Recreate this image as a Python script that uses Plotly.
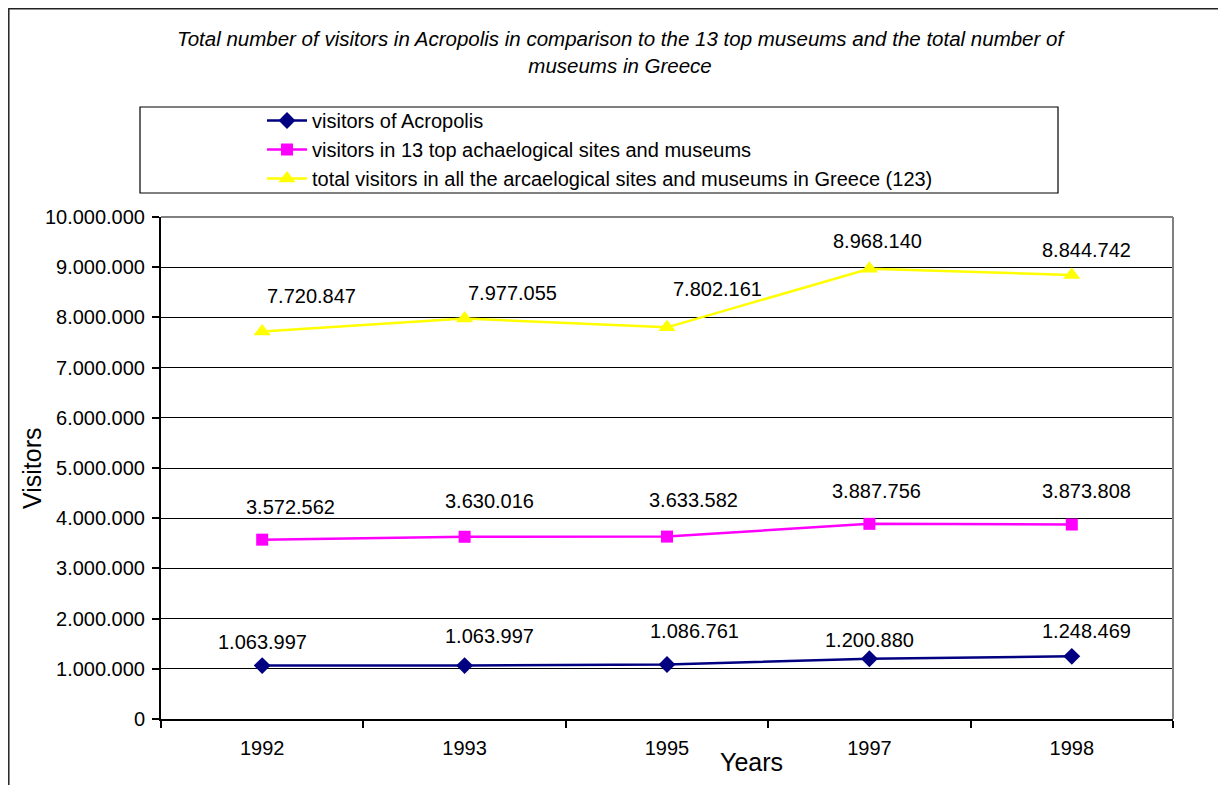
import plotly.graph_objects as go

years = ["1992", "1993", "1995", "1997", "1998"]
acropolis = [1063997, 1063997, 1086761, 1200880, 1248469]
top13 = [3572562, 3630016, 3633582, 3887756, 3873808]
total_greece = [7720847, 7977055, 7802161, 8968140, 8844742]

names = [
    "visitors of Acropolis",
    "visitors in 13 top achaelogical sites and museums",
    "total visitors in all the arcaelogical sites and museums in Greece (123)",
]
y_ticks = [0, 1000000, 2000000, 3000000, 4000000, 5000000, 6000000, 7000000, 8000000, 9000000, 10000000]

# styling (label offsets in pixels, not data)
label_offsets = {
    0: [(0, 24), (25, 30), (27, 33), (0, 19), (15, 25)],
    1: [(28, 33), (25, 36), (26, 37), (7, 33), (15, 34)],
    2: [(49, 35), (48, 26), (50, 38), (8, 28), (15, 25)],
}
colors = ["#000080", "#FF00FF", "#FFFF00"]
symbols = ["diamond", "square", "triangle-up"]
msizes = [13, 12, 15]

FONT = "Liberation Sans, Arial, sans-serif"
fig = go.Figure()
series = [acropolis, top13, total_greece]
for i, vals in enumerate(series):
    fig.add_trace(go.Scatter(
        x=years, y=vals, name=names[i], mode="lines+markers",
        line=dict(color=colors[i], width=2.5),
        marker=dict(symbol=symbols[i], size=msizes[i], color=colors[i]),
    ))

annotations = []
for i, vals in enumerate(series):
    for j, v in enumerate(vals):
        dx, dy = label_offsets[i][j]
        annotations.append(dict(
            x=j, y=v, xref="x", yref="y", text=f"{v:,}".replace(",", "."),
            showarrow=False, xshift=dx, yshift=dy,
            font=dict(family=FONT, size=20, color="black"),
        ))

OFF = 8  # page body margin
W, H = 1226 - OFF, 785 - OFF
L, T = 161 - OFF, 217 - OFF
R = W - (1173 - OFF)
B = H - (719 - OFF)
pw, ph = W - L - R, H - T - B

def px(x):
    return (x - OFF - L) / pw

def py(y):
    return (H - B - (y - OFF)) / ph

annotations.append(dict(
    x=px(621), y=py(52), xref="paper", yref="paper",
    text="Total number of visitors in Acropolis in comparison to the 13 top museums and the total number of<br>museums in Greece",
    showarrow=False, xanchor="center", yanchor="middle",
    font=dict(family=FONT, size=20.5, color="black", style="italic"),
))
annotations.append(dict(
    x=px(751), y=py(762), xref="paper", yref="paper", text="Years",
    showarrow=False, xanchor="center", yanchor="middle",
    font=dict(family=FONT, size=25, color="black"),
))
annotations.append(dict(
    x=px(32), y=py(468), xref="paper", yref="paper", text="Visitors",
    showarrow=False, xanchor="center", yanchor="middle", textangle=-90,
    font=dict(family=FONT, size=25, color="black"),
))

shapes = [
    dict(type="rect", xref="paper", yref="paper", x0=px(8.8), x1=px(1224.5), y0=py(820), y1=py(8.8),
         line=dict(color="#222222", width=1.5), fillcolor="rgba(0,0,0,0)", layer="below"),
    dict(type="rect", xref="paper", yref="paper", x0=px(140), x1=px(1058), y0=py(193), y1=py(107),
         line=dict(color="black", width=1.2), fillcolor="rgba(0,0,0,0)"),
    dict(type="line", xref="paper", yref="paper", x0=0, x1=1, y0=1, y1=1,
         line=dict(color="#808080", width=2)),
    dict(type="line", xref="paper", yref="paper", x0=1, x1=1, y0=0, y1=1,
         line=dict(color="#808080", width=2)),
]

fig.update_layout(
    width=W, height=H,
    margin=dict(l=L, r=R, t=T, b=B, pad=0, autoexpand=False),
    paper_bgcolor="white", plot_bgcolor="white",
    separators=",.",
    font=dict(family=FONT, size=20, color="black"),
    showlegend=True,
    legend=dict(x=px(262), y=py(101), xanchor="left", yanchor="top",
                bgcolor="rgba(0,0,0,0)", borderwidth=0,
                font=dict(family=FONT, size=20, color="black"),
                tracegroupgap=0, itemwidth=40),
    annotations=annotations,
    shapes=shapes,
    xaxis=dict(
        type="category", range=[-0.5, 4.5], tickson="boundaries", ticks="outside", ticklen=7,
        tickcolor="black", tickwidth=1.5, showline=True, linecolor="black", linewidth=2,
        showgrid=False, zeroline=False, ticklabelstandoff=10, tickangle=0, automargin=False,
        tickfont=dict(family=FONT, size=20, color="black"),
    ),
    yaxis=dict(
        range=[0, 10000000], tickvals=y_ticks, tickformat=",d",
        ticks="outside", ticklen=7, tickcolor="black", tickwidth=1.5,
        showline=True, linecolor="black", linewidth=2, automargin=False,
        showgrid=True, gridcolor="black", gridwidth=1, zeroline=False,
        ticklabelstandoff=3,
        tickfont=dict(family=FONT, size=20, color="black"),
    ),
)

fig.write_html("out.html")
